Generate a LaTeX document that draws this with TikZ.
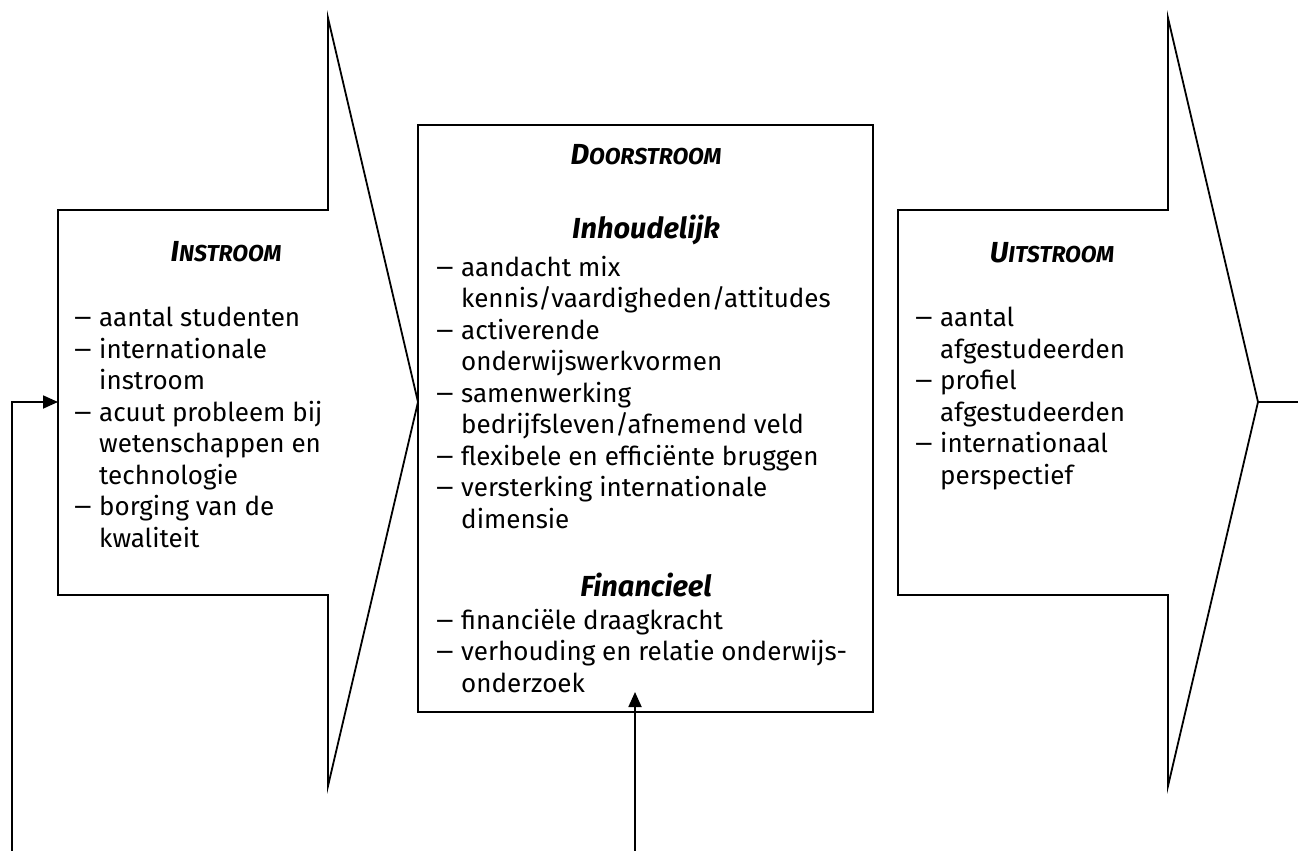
\documentclass[tikz,border=0pt]{standalone}
\usepackage{fontspec}
\usepackage{graphicx}
\setmainfont{Fira Sans}
\usetikzlibrary{arrows.meta,positioning}

\newcommand{\kopsc}[2]{\textbf{\textit{#1{\fontsize{23}{24}\selectfont #2}}}}
\newcommand{\itm}{\makebox[25pt][l]{\scalebox{1.3}[1]{--}}}
\newcommand{\cnt}{\hspace*{25pt}}

\begin{document}
\begin{tikzpicture}[
  x=1pt,y=-1pt,
  vorm/.style={draw,line width=1.8pt,line join=miter},
  kop/.style={inner sep=0pt,font=\fontsize{29}{31.5}\selectfont},
  lijst/.style={inner sep=0pt,align=left,anchor=north west,font=\fontsize{26}{31.5}\selectfont},
  arrow/.style={-{Triangle[length=15pt,width=13pt]},line width=1.8pt}
]
\useasboundingbox (0,0) rectangle (1298,851);
% pijlvormen
\draw[vorm] (58,210) -- (328,210) -- (328,18) -- (418,402) -- (328,786) -- (328,595) -- (58,595) -- cycle;
\draw[vorm] (898,210) -- (1168,210) -- (1168,18) -- (1258,402) -- (1168,786) -- (1168,595) -- (898,595) -- cycle;
\draw[vorm] (418,125) rectangle (873,712);

% instroom
\node[kop] (inhead) at (226,252) {\kopsc{I}{NSTROOM}};
\node[lijst] (inlist) at (74,307) {\itm aantal studenten\\
  \itm internationale\\ \cnt instroom\\
  \itm acuut probleem bij\\ \cnt wetenschappen en\\ \cnt technologie\\
  \itm borging van de\\ \cnt kwaliteit};

% doorstroom
\node[kop] (doorhead) at (646,155) {\kopsc{D}{OORSTROOM}};
\node[kop] (inhoud) at (646,230) {\textbf{\textit{Inhoudelijk}}};
\node[lijst] (inhoudlist) at (436,256) {\itm aandacht mix\\
  \cnt kennis/vaardigheden/attitudes\\
  \itm activerende\\ \cnt onderwijswerkvormen\\
  \itm samenwerking\\ \cnt bedrijfsleven/afnemend veld\\
  \itm flexibele en efficiënte bruggen\\
  \itm versterking internationale\\ \cnt dimensie};
\node[kop] (financ) at (646,585) {\textbf{\textit{Financieel}}};
\node[lijst] (financlist) at (436,609) {\itm financiële draagkracht\\
  \itm verhouding en relatie onderwijs-\\ \cnt onderzoek};

% uitstroom
\node[kop] (uithead) at (1052,253) {\kopsc{U}{ITSTROOM}};
\node[lijst] (uitlist) at (915,307) {\itm aantal\\ \cnt afgestudeerden\\
  \itm profiel\\ \cnt afgestudeerden\\
  \itm internationaal\\ \cnt perspectief};

% verbindingen
\coordinate (fbbase) at (12,851);
\coordinate (inentry) at (58,402);
\coordinate (finbase) at (635,851);
\coordinate (fintip) at (635,692);
\coordinate (outtip) at (1258,402);
\coordinate (outend) at (1298,402);
\draw[arrow] (fbbase) |- (inentry);
\draw[arrow] (finbase) -- (fintip);
\draw[line width=1.8pt] (outtip) -- (outend);
\end{tikzpicture}
\end{document}
